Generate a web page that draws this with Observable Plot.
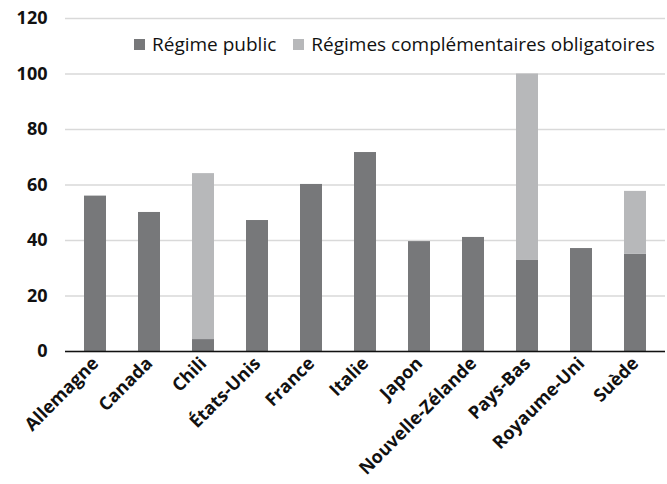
<!DOCTYPE html>
<html><head><meta charset="utf-8">
<script src="https://cdn.jsdelivr.net/npm/d3@7"></script>
<script src="https://cdn.jsdelivr.net/npm/@observablehq/plot@0.6"></script>
<style>
html,body{margin:0;padding:0;background:#fff;}
#wrap{position:relative;width:667px;height:484px;font-family:"Open Sans",sans-serif;}
#legend{position:absolute;left:134px;top:31px;display:flex;align-items:center;font-size:19px;color:#111;white-space:nowrap;}
#legend .sw{display:inline-block;width:11px;height:11px;margin-right:7px;}
#legend .item{display:flex;align-items:center;margin-right:17px;}
</style></head>
<body><div id="wrap"><div id="legend"></div></div>
<script>
const countries = ["Allemagne","Canada","Chili","États-Unis","France","Italie","Japon","Nouvelle-Zélande","Pays-Bas","Royaume-Uni","Suède"];
const publicValues = [56, 50.1, 4.3, 47.2, 60.2, 71.7, 39.6, 41.1, 32.8, 37.1, 35];
const complementaryValues = [0, 0, 59.8, 0, 0, 0, 0, 0, 67.2, 0, 22.7];
const seriesNames = ["Régime public", "Régimes complémentaires obligatoires"];
const seriesColors = ["#77787a", "#b7b8ba"];
const yTicks = [0, 20, 40, 60, 80, 100, 120];

const rows = [];
countries.forEach((c, i) => {
  rows.push({country: c, series: seriesNames[0], value: publicValues[i]});
  rows.push({country: c, series: seriesNames[1], value: complementaryValues[i]});
});

const chart = Plot.plot({
  width: 667, height: 484,
  marginLeft: 65, marginRight: 2, marginTop: 18, marginBottom: 133,
  style: {fontFamily: "'Open Sans', sans-serif", background: "#fff"},
  x: {domain: countries, paddingInner: 0.6, paddingOuter: 0.3, label: null},
  y: {domain: [0, 120], label: null},
  color: {domain: seriesNames, range: seriesColors},
  marks: [
    Plot.gridY(yTicks, {stroke: "#d9d9d9", strokeOpacity: 1, strokeWidth: 1.5}),
    Plot.barY(rows, {x: "country", y: "value", fill: "series", order: seriesNames}),
    Plot.ruleX([0], {frameAnchor: "left", stroke: "#888", strokeWidth: 1}),
    Plot.ruleY([0], {stroke: "#111", strokeWidth: 1.5}),
    Plot.axisY(yTicks, {tickSize: 0, tickPadding: 18, fontSize: 18, fontWeight: "bold", fill: "#111"}),
    Plot.axisX({tickSize: 0, tickPadding: 9, tickRotate: -45, fontSize: 18, fontWeight: "bold", fill: "#111"})
  ]
});
document.getElementById("wrap").appendChild(chart);
const legend = document.getElementById("legend");
seriesNames.forEach((n, i) => {
  const it = document.createElement("span"); it.className = "item";
  const sw = document.createElement("span"); sw.className = "sw"; sw.style.background = seriesColors[i];
  it.appendChild(sw); it.appendChild(document.createTextNode(n));
  legend.appendChild(it);
});
</script></body></html>
